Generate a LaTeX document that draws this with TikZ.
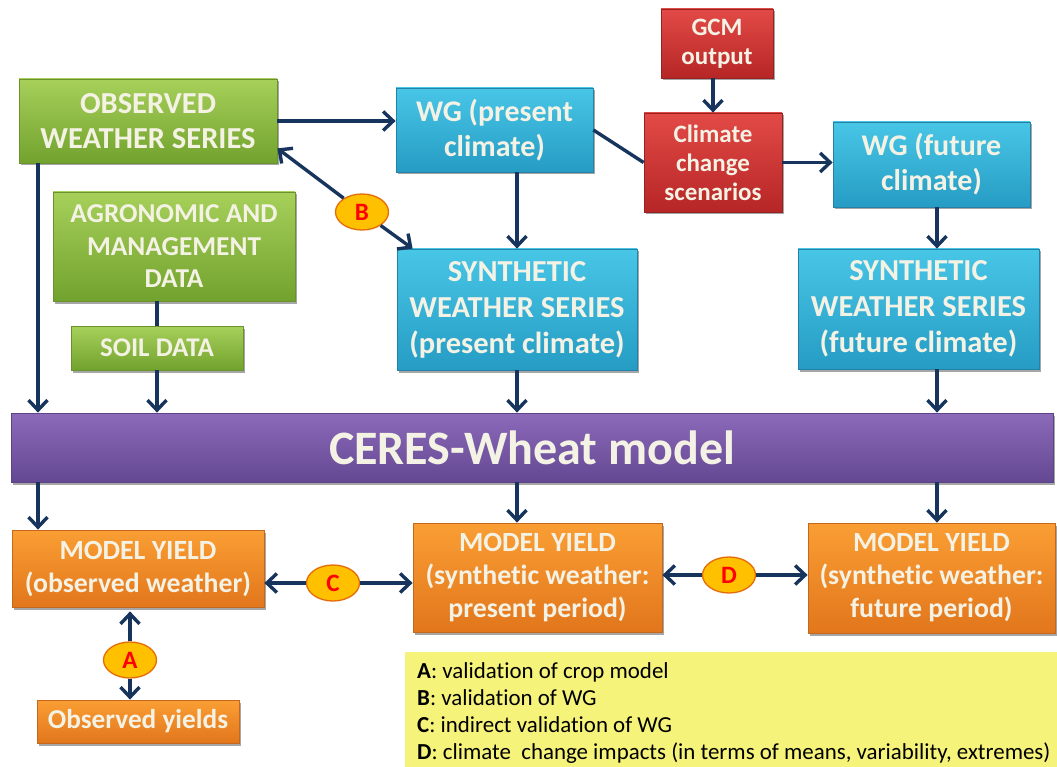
\documentclass[tikz,border=0pt]{standalone}
\usepackage{fontspec}
\setmainfont{Carlito}[Ligatures=NoCommon]
\usetikzlibrary{arrows.meta,shadows,calc,shapes.geometric}
\definecolor{gT}{RGB}{166,208,90}
\definecolor{gB}{RGB}{114,162,46}
\definecolor{gD}{RGB}{108,146,48}
\definecolor{bT}{RGB}{72,198,230}
\definecolor{bB}{RGB}{38,156,196}
\definecolor{bD}{RGB}{36,130,168}
\definecolor{rT}{RGB}{226,74,70}
\definecolor{rB}{RGB}{182,38,38}
\definecolor{rD}{RGB}{150,34,34}
\definecolor{pT}{RGB}{140,106,186}
\definecolor{pB}{RGB}{100,72,146}
\definecolor{pD}{RGB}{92,66,134}
\definecolor{oT}{RGB}{250,158,52}
\definecolor{oB}{RGB}{226,118,28}
\definecolor{oD}{RGB}{196,104,30}
\definecolor{navy}{RGB}{22,52,92}
\definecolor{txt}{RGB}{244,242,228}
\definecolor{elfill}{RGB}{255,192,0}
\definecolor{eldraw}{RGB}{228,108,10}
\definecolor{legfill}{RGB}{246,243,122}
\newcommand\fsz[2]{\fontsize{#1pt}{#2pt}\selectfont}
\begin{document}
\begin{tikzpicture}[x=1pt,y=-1pt,
  bx/.style={rectangle, inner sep=0pt, align=center, text=txt, draw=#1D, line width=0.8pt,
    top color=#1T, bottom color=#1B,
    drop shadow={shadow xshift=1.5pt, shadow yshift=-2.5pt, opacity=0.35, fill=black}},
  arr/.style={draw=navy, line width=3.4pt, -{Straight Barb[length=10pt,width=19pt]}},
  ln/.style={draw=navy, line width=3.4pt},
  lab/.style={ellipse, inner sep=0pt, minimum width=53pt, minimum height=36pt,
    fill=elfill, draw=eldraw, line width=1.3pt, text=red, font=\bfseries\fsz{25}{28}},
  leg/.style={anchor=base west, inner sep=0pt, text=black, font=\fsz{22.9}{27}}]
\useasboundingbox (0,0) rectangle (1057,767);
\fill[white] (0,0) rectangle (1057,767);
\coordinate (ox) at (38,0);
\coordinate (px) at (517,0);
\coordinate (fx) at (937,0);
% green
\node[bx=g, minimum width=258pt, minimum height=84pt, font=\bfseries\fsz{30.5}{35}] (obs) at (148,121) {OBSERVED\\WEATHER SERIES};
\node[bx=g, minimum width=242pt, minimum height=109pt, font=\bfseries\fsz{27.3}{32.5}] (agro) at (174,246.5) {AGRONOMIC AND\\MANAGEMENT\\DATA};
\node[bx=g, minimum width=172pt, minimum height=44pt, font=\bfseries\fsz{27}{32}] (soil) at (157,348) {SOIL DATA};
% blue
\node[bx=b, minimum width=197pt, minimum height=84pt, font=\bfseries\fsz{30}{35}] (wgp) at (494.5,130) {WG (present\\climate)};
\node[bx=b, minimum width=197pt, minimum height=85pt, font=\bfseries\fsz{30}{35}] (wgf) at (931.5,164.5) {WG (future\\climate)};
\node[bx=b, minimum width=240pt, minimum height=121pt, font=\bfseries\fsz{30.5}{36}] (synp) at (517,309.5) {SYNTHETIC\\WEATHER SERIES\\(present climate)};
\node[bx=b, minimum width=241pt, minimum height=120pt, font=\bfseries\fsz{30.5}{36}] (synf) at (918.5,309) {SYNTHETIC\\WEATHER SERIES\\(future climate)};
% red
\node[bx=r, minimum width=112pt, minimum height=69pt, font=\bfseries\fsz{25}{29}] (gcm) at (717,43.5) {GCM\\output};
\node[bx=r, minimum width=138pt, minimum height=99pt, font=\bfseries\fsz{25}{29}] (clim) at (713,162.5) {Climate\\change\\scenarios};
% purple
\node[bx=p, minimum width=1042pt, minimum height=69pt, font=\bfseries\fsz{48}{52}] (ceres) at (532,447.5) {CERES-Wheat model};
% orange
\node[bx=o, minimum width=252pt, minimum height=77pt, font=\bfseries\fsz{27.8}{33}] (myo) at (138,568.5) {MODEL YIELD\\(observed weather)};
\node[bx=o, minimum width=249pt, minimum height=109pt, font=\bfseries\fsz{27.8}{33}] (myp) at (537.5,577.5) {MODEL YIELD\\(synthetic weather:\\present period)};
\node[bx=o, minimum width=247pt, minimum height=110pt, font=\bfseries\fsz{27.8}{33}] (myf) at (931.5,578) {MODEL YIELD\\(synthetic weather:\\future period)};
\node[bx=o, minimum width=202pt, minimum height=43pt, font=\bfseries\fsz{27.3}{31}] (oy) at (138,721.5) {Observed yields};
% labels
\node[lab] (A) at (130,660) {A};
\node[lab] (B) at (362,212) {B};
\node[lab] (C) at (333,583) {C};
\node[lab] (D) at (729,575) {D};
% legend
\node[rectangle, fill=legfill, inner sep=0pt, minimum width=652pt, minimum height=115pt] (legend) at (731,709.5) {};
\node[leg] (l1) at (417,678) {\textbf{A}: validation of crop model};
\node[leg] (l2) at (417,705) {\textbf{B}: validation of WG};
\node[leg] (l3) at (417,732) {\textbf{C}: indirect validation of WG};
\node[leg] (l4) at (417,759) {\textbf{D}: climate\ \ change impacts (in terms of means, variability, extremes)};
% connectors
\draw[arr] (obs.east) -- (obs.east -| wgp.west);
\draw[ln] (wgp.east) -- (clim.west);
\draw[arr] (clim.north |- gcm.south) -- (clim.north);
\draw[arr] (clim.east) -- (clim.east -| wgf.west);
\draw[arr] (fx |- wgf.south) -- (fx |- synf.north);
\draw[arr] (px |- wgp.south) -- (px |- synp.north);
\draw[arr] (B) -- ($(obs.south east)+(0,-15)$);
\draw[arr] (B) -- ($(synp.north west)+(16,0)$);
\draw[ln] (soil.north) -- (soil.north |- agro.south);
\draw[arr] (ox |- obs.south) -- (ox |- ceres.north);
\draw[arr] (soil.south) -- (soil.south |- ceres.north);
\draw[arr] (px |- synp.south) -- (px |- ceres.north);
\draw[arr] (fx |- synf.south) -- (fx |- ceres.north);
\draw[arr] (ox |- ceres.south) -- (ox |- myo.north);
\draw[arr] (px |- ceres.south) -- (px |- myp.north);
\draw[arr] (fx |- ceres.south) -- (fx |- myf.north);
\draw[arr] (C) -- (C -| myo.east);
\draw[arr] (C) -- (C -| myp.west);
\draw[arr] (D) -- (D -| myp.east);
\draw[arr] (D) -- (D -| myf.west);
\draw[arr] (A) -- ($(A |- myo.south)+(0,4)$);
\draw[arr] (A) -- (A |- oy.north);
\end{tikzpicture}
\end{document}
